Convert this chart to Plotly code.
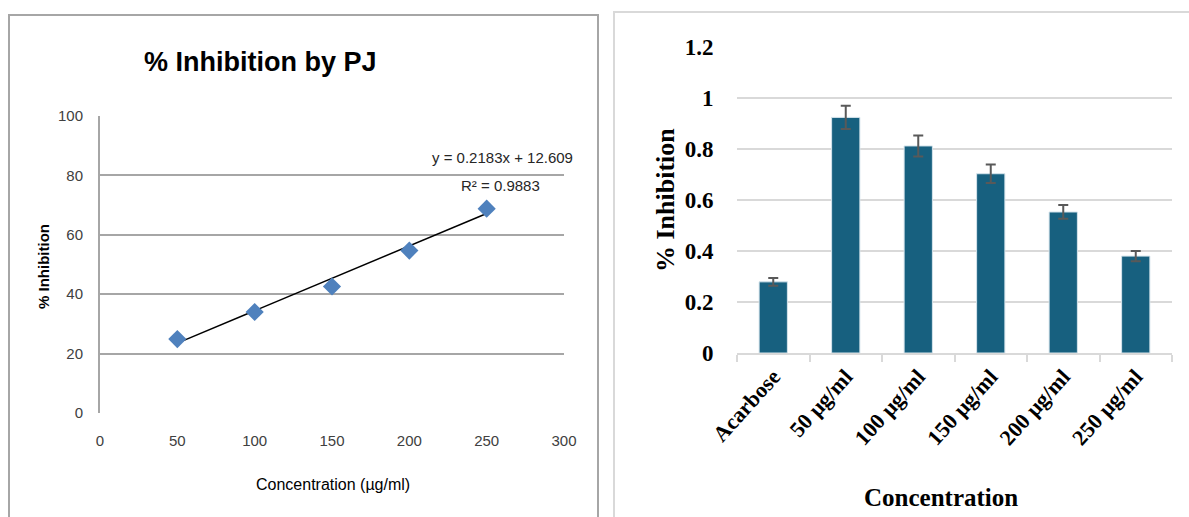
import plotly.graph_objects as go
import numpy as np

# ---- Left chart data ----
conc = [50, 100, 150, 200, 250]
inhibition_pj = [24.9, 34.0, 42.6, 54.7, 68.8]
slope = 0.2183
intercept = 12.609
r2 = 0.9883
left_xticks = [0, 50, 100, 150, 200, 250, 300]
left_yticks = [0, 20, 40, 60, 80, 100]

# ---- Right chart data ----
categories = ["Acarbose", "50 µg/ml", "100 µg/ml", "150 µg/ml", "200 µg/ml", "250 µg/ml"]
inhibition = [0.279, 0.924, 0.812, 0.703, 0.553, 0.380]
errors = [0.015, 0.046, 0.041, 0.036, 0.027, 0.020]
right_yticks = [0, 0.2, 0.4, 0.6, 0.8, 1.0, 1.2]
right_yticklabels = ["0", "0.2", "0.4", "0.6", "0.8", "1", "1.2"]

W, H = 1189, 517
def px(x): return x / W
def py(y): return 1 - y / H

CAL = "Liberation Sans, Arial, sans-serif"
TNR = "Liberation Serif, Times New Roman, serif"

fig = go.Figure()

# trend line
xs = np.array([min(conc), max(conc)])
fig.add_trace(go.Scatter(x=xs, y=slope * xs + intercept, mode="lines",
                         line=dict(color="black", width=1.5),
                         xaxis="x", yaxis="y", showlegend=False, hoverinfo="skip"))
fig.add_trace(go.Scatter(x=conc, y=inhibition_pj, mode="markers",
                         marker=dict(symbol="diamond", size=14, color="#4f81bd",
                                     line=dict(width=0)),
                         xaxis="x", yaxis="y", showlegend=False))

fig.add_trace(go.Bar(x=categories, y=inhibition, width=0.39,
                     marker=dict(color="#17607f", line=dict(color="#d6e4ec", width=1)),
                     error_y=dict(type="data", array=errors, visible=True,
                                  color="#595959", thickness=2, width=5),
                     xaxis="x2", yaxis="y2", showlegend=False))

fig.update_layout(
    template="none",
    width=W, height=H, margin=dict(l=0, r=0, t=0, b=0, autoexpand=False),
    paper_bgcolor="white", plot_bgcolor="white",
    xaxis=dict(domain=[px(100), px(564)], range=[0, 300], tickvals=left_xticks,
               showgrid=False, zeroline=False, showline=False, automargin=False,
               ticks="outside", ticklen=14, tickcolor="rgba(0,0,0,0)",
               tickfont=dict(family=CAL, size=15, color="#404040"), anchor="y"),
    yaxis=dict(domain=[py(413), py(116)], range=[0, 100], tickvals=left_yticks,
               showgrid=True, gridcolor="#a6a6a6", gridwidth=2, zeroline=False,
               showline=True, linecolor="#a6a6a6", linewidth=2, automargin=False,
               ticks="outside", ticklen=12, tickcolor="rgba(0,0,0,0)",
               tickfont=dict(family=CAL, size=15, color="#404040"), anchor="x"),
    xaxis2=dict(domain=[px(737), px(1172)], showgrid=False, zeroline=False,
                showline=True, linecolor="#d9d9d9", linewidth=2, automargin=False,
                tickson="boundaries", ticks="outside", ticklen=7, tickcolor="#d9d9d9",
                tickwidth=2, tickangle=-48,
                tickfont=dict(family=TNR, size=22, color="black", weight="bold"), anchor="y2"),
    yaxis2=dict(domain=[py(353), py(47)], range=[0, 1.2], tickvals=right_yticks,
                ticktext=right_yticklabels, automargin=False,
                showgrid=True, gridcolor="#d9d9d9", gridwidth=2, zeroline=False,
                showline=False, ticks="outside", ticklen=18, tickcolor="rgba(0,0,0,0)",
                tickfont=dict(family=TNR, size=23, color="black", weight="bold"), anchor="x2"),
    bargap=0.61,
)

shapes = [
    dict(type="rect", xref="paper", yref="paper", x0=px(9), x1=px(598), y0=py(520), y1=py(15),
         line=dict(color="#a6a6a6", width=2), fillcolor="rgba(0,0,0,0)", layer="below"),
    dict(type="rect", xref="paper", yref="paper", x0=px(614), x1=px(1192), y0=py(520), y1=py(12),
         line=dict(color="#d9d9d9", width=2), fillcolor="rgba(0,0,0,0)", layer="below"),
]
fig.update_layout(shapes=shapes)

def note(text, x, y, font, angle=0):
    return dict(text=text, x=px(x), y=py(y), xref="paper", yref="paper",
                xanchor="center", yanchor="middle", showarrow=False,
                textangle=angle, font=font)

ann = [
    note("<b>% Inhibition by PJ</b>", 260, 62, dict(family=CAL, size=27, color="black")),
    note("<b>% Inhibition</b>", 43, 267, dict(family=CAL, size=15, color="black"), -90),
    note("Concentration (µg/ml)", 333, 484, dict(family=CAL, size=16, color="black")),
    note(f"y = {slope}x + {intercept}", 502, 157, dict(family=CAL, size=15, color="#262626")),
    note(f"R² = {r2}", 501, 185, dict(family=CAL, size=15, color="#262626")),
    note("<b>% Inhibition</b>", 665, 200, dict(family=TNR, size=26, color="black"), -90),
    note("<b>Concentration</b>", 941, 497, dict(family=TNR, size=25, color="black")),
]
fig.update_layout(annotations=ann)

fig.write_html("out.html", config={"displayModeBar": False},
               post_script="document.body.style.margin='0';document.body.style.overflow='hidden';")
